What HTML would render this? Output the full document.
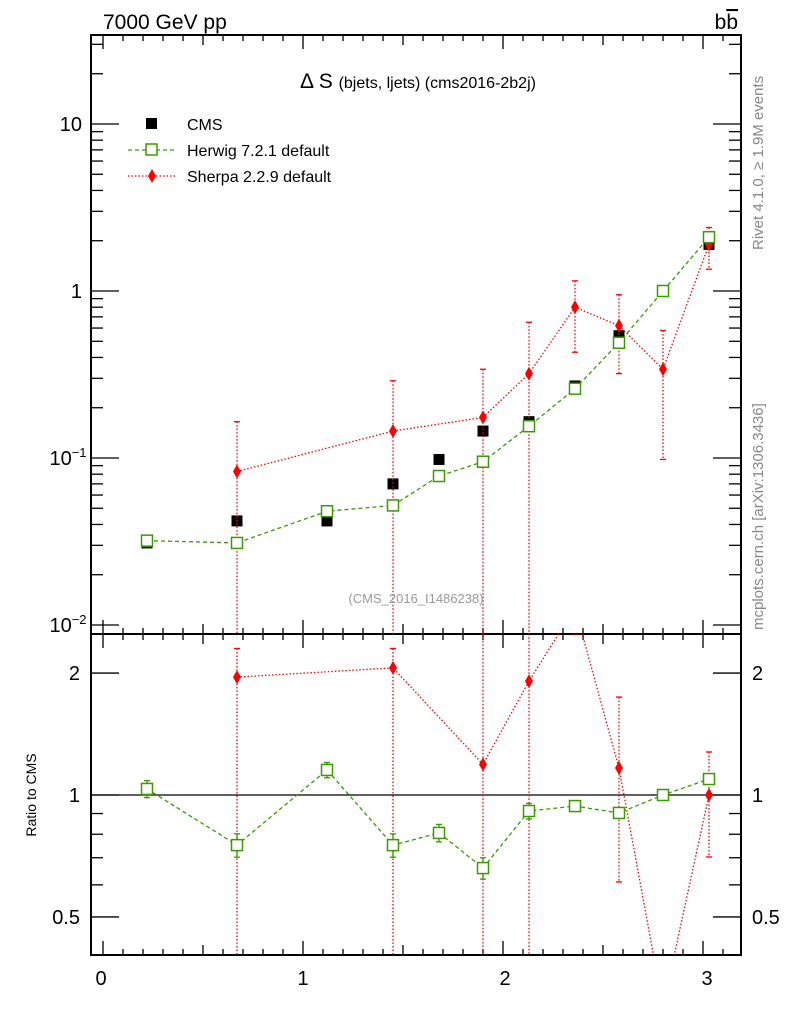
<!DOCTYPE html>
<html><head><meta charset="utf-8"><style>
html,body{margin:0;padding:0;background:#fff;overflow:hidden}
svg{display:block}
svg text{font-family:"Liberation Sans",sans-serif}
</style></head><body>
<svg id="c" width="786" height="1024" xmlns="http://www.w3.org/2000/svg">
<defs>
<clipPath id="cm"><rect x="91" y="35" width="650" height="599"/></clipPath>
<clipPath id="cr"><rect x="91" y="634" width="650" height="321"/></clipPath>
</defs>
<g id="axes"></g>
<g id="mainData" clip-path="url(#cm)"></g>
<g id="ratioData" clip-path="url(#cr)"></g>
<text x="103" y="29" font-size="21">7000 GeV pp</text>
<text x="738" y="29" font-size="21" text-anchor="end">b<tspan text-decoration="overline">b</tspan></text>
<text x="418" y="88" font-size="21" text-anchor="middle">Δ S <tspan font-size="16">(bjets, ljets) (cms2016-2b2j)</tspan></text>
<text x="416" y="603" font-size="13" fill="#999" text-anchor="middle">(CMS_2016_I1486238)</text>
<text transform="translate(763,250) rotate(-90)" font-size="15" fill="#888">Rivet 4.1.0, ≥ 1.9M events</text>
<text transform="translate(763,630) rotate(-90)" font-size="15" fill="#888">mcplots.cern.ch [arXiv:1306.3436]</text>
<text transform="translate(36,795) rotate(-90)" font-size="14" text-anchor="middle">Ratio to CMS</text>
<g>
<rect x="146" y="118" width="11" height="11" fill="#000"/>
<text x="187" y="130" font-size="16">CMS</text>
<line x1="128" y1="150" x2="175" y2="150" stroke="#3a9a00" stroke-width="1.3" stroke-dasharray="4,3"/>
<rect x="146" y="144" width="11" height="11" fill="#fff" stroke="#3a9a00" stroke-width="1.5"/>
<text x="187" y="156" font-size="16">Herwig 7.2.1 default</text>
<line x1="128" y1="176" x2="175" y2="176" stroke="#f00" stroke-width="1.3" stroke-dasharray="1.5,2"/>
<polygon points="152,169 156,176 152,183 148,176" fill="#f00"/>
<text x="187" y="182" font-size="16">Sherpa 2.2.9 default</text>
</g>
</svg>
<script>
const xs=[0.22,0.67,1.12,1.45,1.68,1.9,2.13,2.36,2.58,2.8,3.03];
const cms=[0.031,0.042,0.042,0.07,0.098,0.145,0.165,0.27,0.54,1.0,1.9];
const herwig=[0.032,0.031,0.048,0.052,0.078,0.095,0.155,0.26,0.49,1.0,2.1];
const sherpaX=[0.67,1.45,1.9,2.13,2.36,2.58,2.8,3.03];
const sherpa=[0.083,0.145,0.175,0.32,0.8,0.62,0.34,1.9];
const sherpaLo=[0.001,0.001,0.001,0.001,0.43,0.32,0.098,1.35];
const sherpaHi=[0.165,0.29,0.34,0.65,1.15,0.95,0.58,2.4];
const ratioH=[1.035,0.752,1.153,0.752,0.806,0.66,0.913,0.939,0.903,1.0,1.095];
const ratioHErr=[0.05,0.05,0.05,0.05,0.04,0.04,0.04,0.025,0.025,0.015,0.025];
const ratioS=[1.955,2.06,1.19,1.91,2.9,1.166,0.3,1.0];
const ratioSLo=[0.1,0.1,0.1,0.1,2.5,0.61,0.1,0.703];
const ratioSHi=[2.3,2.3,2.6,2.6,3.3,1.745,0.35,1.277];
const xTicks=[0,1,2,3];

const NS="http://www.w3.org/2000/svg";
const X=v=>103+200*v;
const Y=v=>124-167*(Math.log10(v)-1);
const R=v=>795-405*Math.log10(v);
function el(p,t,a){const e=document.createElementNS(NS,t);for(const k in a)e.setAttribute(k,a[k]);p.appendChild(e);return e;}
const ax=document.getElementById('axes'),md=document.getElementById('mainData'),rd=document.getElementById('ratioData');
let f1=el(ax,'rect',{x:91,y:35,width:650,height:599,fill:'none',stroke:'#000','stroke-width':2});

let f2=el(ax,'rect',{x:91,y:634,width:650,height:321,fill:'none',stroke:'#000','stroke-width':2});

for(let i=-1;i<=32;i++){const v=i/10,x=X(v);if(x<91||x>741)continue;const L=(i%10==0)?14:(i%5==0?10:6);
 for(const [y0,d] of [[634,-1],[35,1],[955,-1],[634,1]]){el(ax,'line',{x1:x,y1:y0,x2:x,y2:y0+d*L,stroke:'#000','stroke-width':1.3});}}
xTicks.forEach(v=>{const t=el(ax,'text',{x:X(v)-2+2*v,y:985,'font-size':20,'text-anchor':'middle'});t.textContent=v;
});
for(let d=-2;d<=1;d++)for(let m=1;m<10;m++){const v=m*Math.pow(10,d),y=Y(v);if(y<35||y>634)continue;const L=m==1?28:12;
 el(ax,'line',{x1:91,y1:y,x2:91+L,y2:y,stroke:'#000','stroke-width':1.3});el(ax,'line',{x1:741,y1:y,x2:741-L,y2:y,stroke:'#000','stroke-width':1.3});}
[[10,'10'],[1,'1'],[0.1,'10<tspan dy="-8" font-size="13">−1</tspan>'],[0.01,'10<tspan dy="-8" font-size="13">−2</tspan>']].forEach(([v,s])=>{
 const t=el(ax,'text',{x:v<1?68:82,y:Y(v)+7,'font-size':20,'text-anchor':v<1?'middle':'end'});t.innerHTML=s;
 });
for(const v of [0.5,0.6,0.7,0.8,0.9,1,2]){const y=R(v),L=(v==1||v==2||v==0.5)?28:12;
 el(ax,'line',{x1:91,y1:y,x2:91+L,y2:y,stroke:'#000','stroke-width':1.3});el(ax,'line',{x1:741,y1:y,x2:741-L,y2:y,stroke:'#000','stroke-width':1.3});}
[[2,'2'],[1,'1'],[0.5,'0.5']].forEach(([v,s])=>{
 let t=el(ax,'text',{x:80,y:R(v)+7,'font-size':20,'text-anchor':'end'});t.textContent=s;
 
 t=el(ax,'text',{x:752,y:R(v)+7,'font-size':20});t.textContent=s;
 });
let l1=el(rd,'line',{x1:91,y1:R(1),x2:741,y2:R(1),stroke:'#000','stroke-width':1.3});

function poly(g,pts,col,dash,name){const p=el(g,'polyline',{points:pts.map(q=>q.join(',')).join(' '),fill:'none',stroke:col,'stroke-width':1.3,'stroke-dasharray':dash});
 }
function vbar(g,x,y1,y2,col,dash){el(g,'line',{x1:x,y1:y1,x2:x,y2:y2,stroke:col,'stroke-width':1.3,'stroke-dasharray':dash});
 el(g,'line',{x1:x-3,y1:y1,x2:x+3,y2:y1,stroke:col,'stroke-width':1.3});el(g,'line',{x1:x-3,y1:y2,x2:x+3,y2:y2,stroke:col,'stroke-width':1.3});}
function sq(g,x,y,name){const r=el(g,'rect',{x:x-5.5,y:y-5.5,width:11,height:11,fill:'#fff',stroke:'#3a9a00','stroke-width':1.5});
 }
function dia(g,x,y,name){const p=el(g,'polygon',{points:`${x},${y-7} ${x+4},${y} ${x},${y+7} ${x-4},${y}`,fill:'#f00'});
 }
xs.forEach((v,i)=>{const r=el(md,'rect',{x:X(v)-5.5,y:Y(cms[i])-5.5,width:11,height:11,fill:'#000'});
 });
poly(md,sherpaX.map((v,i)=>[X(v),Y(sherpa[i])]),'#f00','1.5,2','sherpa-line');
sherpaX.forEach((v,i)=>{vbar(md,X(v),Y(sherpaHi[i]),Y(sherpaLo[i]),'#f00','1.5,2');dia(md,X(v),Y(sherpa[i]),'sherpa-point');});
poly(md,xs.map((v,i)=>[X(v),Y(herwig[i])]),'#3a9a00','4,3','herwig-line');
xs.forEach((v,i)=>{vbar(md,X(v),Y(herwig[i]*1.06),Y(herwig[i]*0.94),'#3a9a00','');sq(md,X(v),Y(herwig[i]),'herwig-point');});
poly(rd,sherpaX.map((v,i)=>[X(v),R(ratioS[i])]),'#f00','1.5,2','ratio-sherpa-line');
sherpaX.forEach((v,i)=>{vbar(rd,X(v),R(ratioSHi[i]),R(ratioSLo[i]),'#f00','1.5,2');dia(rd,X(v),R(ratioS[i]),'ratio-sherpa-point');});
poly(rd,xs.map((v,i)=>[X(v),R(ratioH[i])]),'#3a9a00','4,3','ratio-herwig-line');
xs.forEach((v,i)=>{vbar(rd,X(v),R(ratioH[i]+ratioHErr[i]),R(ratioH[i]-ratioHErr[i]),'#3a9a00','');sq(rd,X(v),R(ratioH[i]),'ratio-herwig-point');});
</script>
</body></html>
